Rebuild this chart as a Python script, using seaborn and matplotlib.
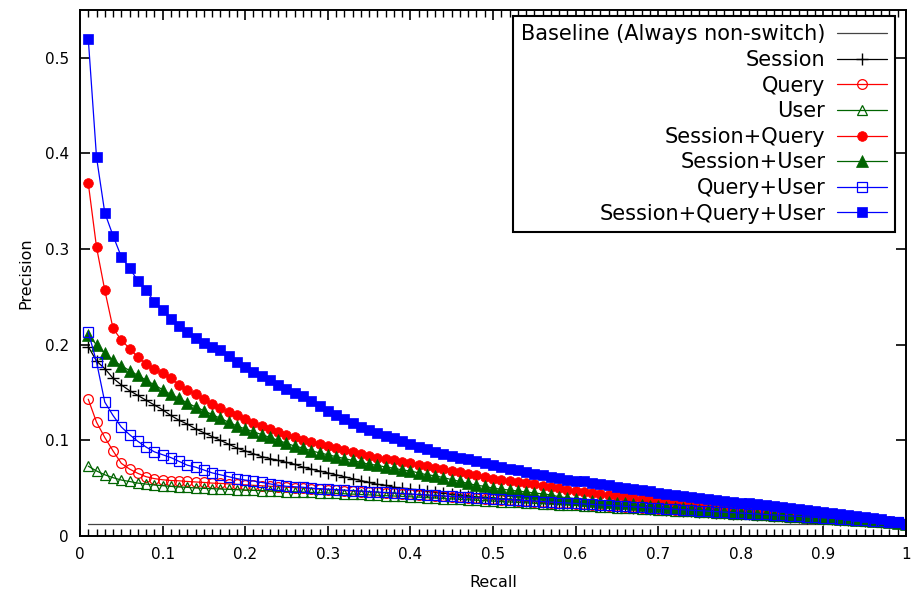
import numpy as np
import pandas as pd
import matplotlib
matplotlib.use("Agg")
import matplotlib.pyplot as plt
from matplotlib.ticker import MultipleLocator, FuncFormatter, NullLocator
import seaborn as sns

# Recall levels at which precision was measured
recall = np.round(np.arange(1, 101) * 0.01, 2)

# Precision of always predicting "non-switch"
baseline_precision = 0.0127

session = [0.198, 0.183, 0.175, 0.165, 0.158, 0.152, 0.147, 0.142, 0.137, 0.132,
           0.126, 0.121, 0.117, 0.112, 0.108, 0.104, 0.100, 0.096, 0.092, 0.089,
           0.086, 0.083, 0.081, 0.079, 0.077, 0.075, 0.072, 0.070, 0.068, 0.066,
           0.064, 0.062, 0.060, 0.058, 0.056, 0.054, 0.053, 0.051, 0.050, 0.049,
           0.048, 0.047, 0.046, 0.045, 0.044, 0.043, 0.042, 0.041, 0.0405, 0.040,
           0.039, 0.0385, 0.038, 0.037, 0.0365, 0.036, 0.035, 0.0345, 0.034, 0.033,
           0.0325, 0.032, 0.0315, 0.031, 0.0305, 0.030, 0.0295, 0.029, 0.0285, 0.028,
           0.0275, 0.027, 0.0265, 0.026, 0.0255, 0.025, 0.0245, 0.024, 0.0235, 0.023,
           0.0225, 0.022, 0.0215, 0.021, 0.0205, 0.020, 0.0195, 0.019, 0.0185, 0.018,
           0.0175, 0.017, 0.0167, 0.0163, 0.016, 0.0155, 0.015, 0.0145, 0.014, 0.013]

query = [0.143, 0.119, 0.103, 0.089, 0.076, 0.070, 0.0655, 0.062, 0.060, 0.0588,
         0.058, 0.0577, 0.057, 0.0565, 0.056, 0.0553, 0.055, 0.0545, 0.054, 0.0535,
         0.053, 0.0525, 0.052, 0.0515, 0.051, 0.0505, 0.050, 0.0495, 0.049, 0.0485,
         0.048, 0.0475, 0.047, 0.0465, 0.046, 0.0455, 0.045, 0.0445, 0.044, 0.0435,
         0.043, 0.0425, 0.042, 0.0415, 0.041, 0.0405, 0.040, 0.0395, 0.039, 0.0385,
         0.038, 0.0375, 0.037, 0.0365, 0.036, 0.0355, 0.035, 0.0345, 0.034, 0.0335,
         0.033, 0.0325, 0.032, 0.0315, 0.031, 0.0305, 0.030, 0.0295, 0.029, 0.0285,
         0.028, 0.0275, 0.027, 0.0265, 0.026, 0.0255, 0.025, 0.0245, 0.024, 0.0235,
         0.023, 0.0225, 0.022, 0.0215, 0.021, 0.0205, 0.020, 0.0195, 0.019, 0.0185,
         0.018, 0.0175, 0.017, 0.0165, 0.016, 0.0155, 0.015, 0.0145, 0.014, 0.013]

user = [0.073, 0.068, 0.064, 0.061, 0.0585, 0.057, 0.0553, 0.0543, 0.0533, 0.0526,
        0.0519, 0.0512, 0.0509, 0.0502, 0.0498, 0.0495, 0.0491, 0.0488, 0.0484, 0.048,
        0.0477, 0.0474, 0.0471, 0.0468, 0.0465, 0.0462, 0.0459, 0.0456, 0.0453, 0.045,
        0.0446, 0.0442, 0.0438, 0.0434, 0.043, 0.0426, 0.0422, 0.0418, 0.0414, 0.041,
        0.0406, 0.0401, 0.0397, 0.0392, 0.0388, 0.0383, 0.0379, 0.0374, 0.037, 0.0365,
        0.036, 0.0356, 0.0351, 0.0347, 0.0342, 0.0338, 0.0333, 0.0329, 0.0324, 0.032,
        0.0315, 0.0311, 0.0306, 0.0302, 0.0297, 0.0293, 0.0288, 0.0284, 0.0279, 0.0275,
        0.027, 0.0266, 0.0261, 0.0257, 0.0252, 0.0248, 0.0243, 0.0239, 0.0234, 0.023,
        0.0225, 0.0221, 0.0216, 0.0212, 0.0207, 0.0203, 0.0198, 0.0194, 0.0189, 0.0185,
        0.018, 0.0175, 0.017, 0.0165, 0.016, 0.0155, 0.015, 0.0145, 0.014, 0.013]

session_query = [0.369, 0.302, 0.257, 0.217, 0.205, 0.196, 0.187, 0.180, 0.175, 0.170,
                 0.165, 0.158, 0.153, 0.148, 0.143, 0.138, 0.134, 0.130, 0.126, 0.122,
                 0.118, 0.115, 0.112, 0.109, 0.106, 0.103, 0.100, 0.098, 0.096, 0.094,
                 0.092, 0.090, 0.088, 0.086, 0.084, 0.082, 0.080, 0.079, 0.077, 0.076,
                 0.074, 0.073, 0.071, 0.070, 0.068, 0.067, 0.065, 0.064, 0.062, 0.060,
                 0.059, 0.058, 0.056, 0.055, 0.054, 0.052, 0.051, 0.050, 0.048, 0.047,
                 0.046, 0.045, 0.044, 0.043, 0.042, 0.041, 0.040, 0.039, 0.038, 0.037,
                 0.036, 0.035, 0.034, 0.033, 0.032, 0.031, 0.030, 0.029, 0.0285, 0.028,
                 0.027, 0.0265, 0.026, 0.025, 0.0245, 0.024, 0.023, 0.0225, 0.022, 0.021,
                 0.0205, 0.020, 0.019, 0.0185, 0.018, 0.017, 0.0165, 0.0155, 0.0145, 0.013]

session_user = [0.210, 0.200, 0.191, 0.184, 0.178, 0.173, 0.168, 0.163, 0.158, 0.153,
                0.148, 0.144, 0.139, 0.135, 0.131, 0.127, 0.123, 0.119, 0.115, 0.112,
                0.109, 0.106, 0.103, 0.100, 0.097, 0.094, 0.092, 0.089, 0.087, 0.085,
                0.083, 0.081, 0.079, 0.077, 0.075, 0.074, 0.072, 0.071, 0.069, 0.068,
                0.066, 0.064, 0.063, 0.061, 0.059, 0.057, 0.055, 0.053, 0.052, 0.050,
                0.049, 0.048, 0.047, 0.046, 0.045, 0.044, 0.043, 0.041, 0.040, 0.039,
                0.038, 0.037, 0.036, 0.0355, 0.035, 0.034, 0.033, 0.032, 0.0315, 0.031,
                0.030, 0.0295, 0.029, 0.028, 0.0275, 0.027, 0.026, 0.0255, 0.025, 0.0245,
                0.024, 0.023, 0.0225, 0.022, 0.0215, 0.021, 0.0205, 0.020, 0.0195, 0.019,
                0.0185, 0.018, 0.0175, 0.017, 0.0165, 0.016, 0.0155, 0.015, 0.014, 0.013]

query_user = [0.2135, 0.182, 0.140, 0.126, 0.114, 0.106, 0.099, 0.093, 0.088, 0.085,
              0.082, 0.078, 0.074, 0.072, 0.069, 0.066, 0.064, 0.062, 0.060, 0.0585,
              0.0575, 0.056, 0.0545, 0.053, 0.052, 0.0515, 0.051, 0.050, 0.0495, 0.049,
              0.0485, 0.048, 0.0475, 0.047, 0.0465, 0.046, 0.0455, 0.045, 0.0445, 0.044,
              0.0435, 0.043, 0.0425, 0.042, 0.0415, 0.041, 0.0405, 0.040, 0.0395, 0.039,
              0.0385, 0.038, 0.0375, 0.037, 0.0365, 0.036, 0.0355, 0.035, 0.0345, 0.034,
              0.0335, 0.033, 0.0325, 0.032, 0.0315, 0.031, 0.0305, 0.030, 0.0295, 0.029,
              0.0285, 0.028, 0.0275, 0.027, 0.0265, 0.026, 0.0255, 0.025, 0.0245, 0.024,
              0.0235, 0.023, 0.0225, 0.022, 0.0215, 0.021, 0.0205, 0.020, 0.0195, 0.019,
              0.0185, 0.018, 0.0175, 0.017, 0.0165, 0.016, 0.0155, 0.015, 0.0143, 0.013]

session_query_user = [0.520, 0.396, 0.338, 0.314, 0.292, 0.280, 0.267, 0.257, 0.245, 0.236,
                      0.227, 0.220, 0.213, 0.207, 0.202, 0.198, 0.194, 0.188, 0.182, 0.177,
                      0.172, 0.167, 0.163, 0.158, 0.154, 0.150, 0.146, 0.141, 0.136, 0.131,
                      0.126, 0.122, 0.118, 0.114, 0.111, 0.108, 0.105, 0.102, 0.099, 0.096,
                      0.093, 0.091, 0.088, 0.086, 0.084, 0.082, 0.080, 0.078, 0.076, 0.074,
                      0.072, 0.070, 0.069, 0.067, 0.065, 0.064, 0.062, 0.061, 0.059, 0.058,
                      0.057, 0.055, 0.054, 0.053, 0.051, 0.050, 0.049, 0.048, 0.047, 0.045,
                      0.044, 0.043, 0.042, 0.041, 0.040, 0.039, 0.038, 0.037, 0.036, 0.035,
                      0.034, 0.033, 0.032, 0.031, 0.030, 0.029, 0.028, 0.027, 0.026, 0.025,
                      0.024, 0.023, 0.022, 0.021, 0.020, 0.019, 0.018, 0.016, 0.015, 0.013]

labels = ["Baseline (Always non-switch)", "Session", "Query", "User",
          "Session+Query", "Session+User", "Query+User", "Session+Query+User"]

df = pd.DataFrame({
    "Recall": recall,
    labels[0]: [baseline_precision] * len(recall),
    labels[1]: session,
    labels[2]: query,
    labels[3]: user,
    labels[4]: session_query,
    labels[5]: session_user,
    labels[6]: query_user,
    labels[7]: session_query_user,
})

RED = "#ff0000"
GREEN = "#006400"
BLUE = "#0000ff"

styles = {
    labels[0]: dict(color="#444444", marker=None),
    labels[1]: dict(color="black", marker="+", markersize=8, mfc="black", mec="black", mew=1.0),
    labels[2]: dict(color=RED, marker="o", markersize=7, mfc="none", mec=RED, mew=0.9),
    labels[3]: dict(color=GREEN, marker="^", markersize=7.5, mfc="none", mec=GREEN, mew=0.9),
    labels[4]: dict(color=RED, marker="o", markersize=7, mfc=RED, mec=RED, mew=0.5),
    labels[5]: dict(color=GREEN, marker="^", markersize=8, mfc=GREEN, mec=GREEN, mew=0.5),
    labels[6]: dict(color=BLUE, marker="s", markersize=7, mfc="none", mec=BLUE, mew=0.9),
    labels[7]: dict(color=BLUE, marker="s", markersize=7.2, mfc=BLUE, mec=BLUE, mew=0.5),
}

sns.set_style("ticks")
plt.rcParams["font.family"] = ["DejaVu Sans"]
plt.rcParams.update({
    "text.color": "black",
    "axes.labelcolor": "black",
    "xtick.color": "black",
    "ytick.color": "black",
})

fig = plt.figure(figsize=(9.12, 5.90), dpi=100)
ax = fig.add_axes([80 / 912, 54 / 590, 826 / 912, 526 / 590])

for name in labels:
    st = dict(styles[name])
    color = st.pop("color")
    marker = st.pop("marker")
    kws = dict(markerfacecolor=st.get("mfc"), markeredgecolor=st.get("mec"),
               markeredgewidth=st.get("mew"), markersize=st.get("markersize")) if marker else {}
    sns.lineplot(data=df, x="Recall", y=name, ax=ax, color=color, marker=marker,
                 linewidth=0.9, label=name, **kws)

ax.set_xlim(0, 1)
ax.set_ylim(0, 0.55)
fmt = FuncFormatter(lambda v, p: f"{v:g}")
ax.xaxis.set_major_formatter(fmt)
ax.yaxis.set_major_formatter(fmt)
for sp in ax.spines.values():
    sp.set_linewidth(1.4)
    sp.set_color("black")

ax.set_xlabel("Recall", fontsize=11.5, labelpad=9, color="black")
ax.set_ylabel("Precision", fontsize=11.5, labelpad=8, color="black")

leg = ax.legend(loc="upper right", bbox_to_anchor=(895 / 912, 1 - 16 / 590),
                bbox_transform=fig.transFigure, borderaxespad=0, markerfirst=False,
                frameon=True, fancybox=False, edgecolor="black", framealpha=1,
                fontsize=15, handlelength=2.4, handletextpad=0.55,
                labelspacing=0.27, borderpad=0.4, numpoints=1)
leg.get_frame().set_linewidth(1.5)
for t in leg.get_texts():
    t.set_color("black")

# Majors every 0.1 on all four sides, x minors every 0.01 on bottom and top
ax.xaxis.set_major_locator(MultipleLocator(0.1))
ax.yaxis.set_major_locator(MultipleLocator(0.1))
ax.xaxis.set_minor_locator(MultipleLocator(0.01))
ax.yaxis.set_minor_locator(NullLocator())
ax.tick_params(axis="both", which="major", direction="in", length=7, width=1.2, pad=8,
               top=True, right=True, bottom=True, left=True, labelsize=11, labelcolor="black")
ax.tick_params(axis="x", which="minor", direction="in", length=5, width=1.0,
               color="black", bottom=True, top=True)

fig.savefig("out.png", dpi=100, facecolor="white")
